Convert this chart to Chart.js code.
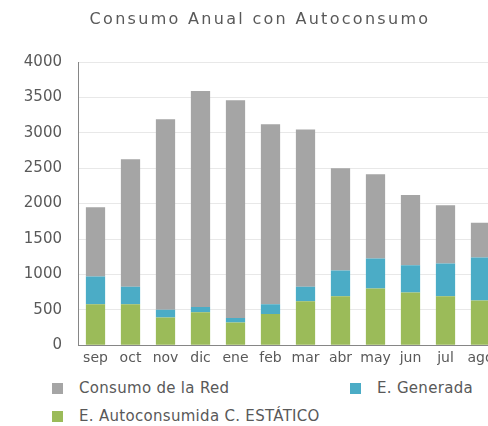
<!DOCTYPE html>
<html>
<head>
<meta charset="utf-8">
<script src="https://cdn.jsdelivr.net/npm/chart.js@4.4.1/dist/chart.umd.min.js"></script>
<style>
	body { margin: 0; background: #fff; overflow: hidden; width: 488px; height: 426px; position: relative; font-family: 'DejaVu Sans', sans-serif; }
	#chart { position: absolute; left: 0; top: 0; }
	#title { position: absolute; left: 0; width: 520px; top: 10px; text-align: center; color: #595959; font-size: 16px; letter-spacing: 2.3px; line-height: 18px; white-space: nowrap; }
	#legend { position: absolute; left: 52px; top: 379px; display: grid; grid-template-columns: 298px auto; row-gap: 10px; color: #595959; font-size: 15px; letter-spacing: 0.3px; }
	.item { display: flex; align-items: center; height: 18px; white-space: nowrap; }
	.box { width: 11px; height: 11px; margin-right: 16px; }
</style>
</head>
<body>
<canvas id="chart" width="500" height="376"></canvas>
<div id="title">Consumo Anual con Autoconsumo</div>
<div id="legend"></div>
<script>
const months = ['sep', 'oct', 'nov', 'dic', 'ene', 'feb', 'mar', 'abr', 'may', 'jun', 'jul', 'ago']
// stacked segments, bottom to top
const autoconsumida = [580, 580, 390, 465, 320, 440, 620, 690, 800, 745, 690, 630]
const generada = [390, 245, 110, 75, 65, 140, 205, 365, 425, 385, 465, 610]
const red = [980, 1800, 2690, 3050, 3075, 2540, 2220, 1445, 1190, 990, 820, 490]
const yTicks = [0, 500, 1000, 1500, 2000, 2500, 3000, 3500, 4000]

const textColor = '#595959'
Chart.defaults.font.family = "'DejaVu Sans', sans-serif"
Chart.defaults.color = textColor

const ctx = document.getElementById('chart').getContext('2d')

const chart = new Chart(ctx, {
	type: 'bar',
	data: {
		labels: months,
		datasets: [
			{ label: 'E. Autoconsumida C. ESTÁTICO', data: autoconsumida, backgroundColor: '#9BBB59' },
			{ label: 'E. Generada', data: generada, backgroundColor: '#4BACC6' },
			{ label: 'Consumo de la Red', data: red, backgroundColor: '#A5A5A5' }
		]
	},
	options: {
		responsive: false,
		animation: false,
		devicePixelRatio: 1,
		layout: { padding: { left: 0, right: 2, top: 62, bottom: 4 } },
		datasets: { bar: { barPercentage: 0.55, categoryPercentage: 1 } },
		plugins: {
			legend: { display: false },
			tooltip: { enabled: false },
			title: { display: false }
		},
		scales: {
			x: {
				stacked: true,
				grid: { display: false, drawTicks: false },
				border: { display: true, color: '#868686' },
				ticks: { color: textColor, font: { size: 14 }, padding: 5, maxRotation: 0, autoSkip: false }
			},
			y: {
				stacked: true,
				min: 0,
				max: 4000,
				afterBuildTicks: scale => { scale.ticks = yTicks.map(v => ({ value: v })) },
				afterFit: scale => { scale.width = 78 },
				grid: { color: '#E8E8E8', drawTicks: false },
				border: { display: true, color: '#868686' },
				ticks: { color: textColor, font: { size: 15 }, padding: 16, callback: v => String(v) }
			}
		}
	}
})

// legend in two columns, like the original
const legendEl = document.getElementById('legend')
const order = [2, 1, 0]
order.forEach(i => {
	const ds = chart.data.datasets[i]
	const item = document.createElement('div')
	item.className = 'item'
	item.innerHTML = '<span class="box" style="background:' + ds.backgroundColor + '"></span>' + ds.label
	legendEl.appendChild(item)
})
</script>
</body>
</html>
